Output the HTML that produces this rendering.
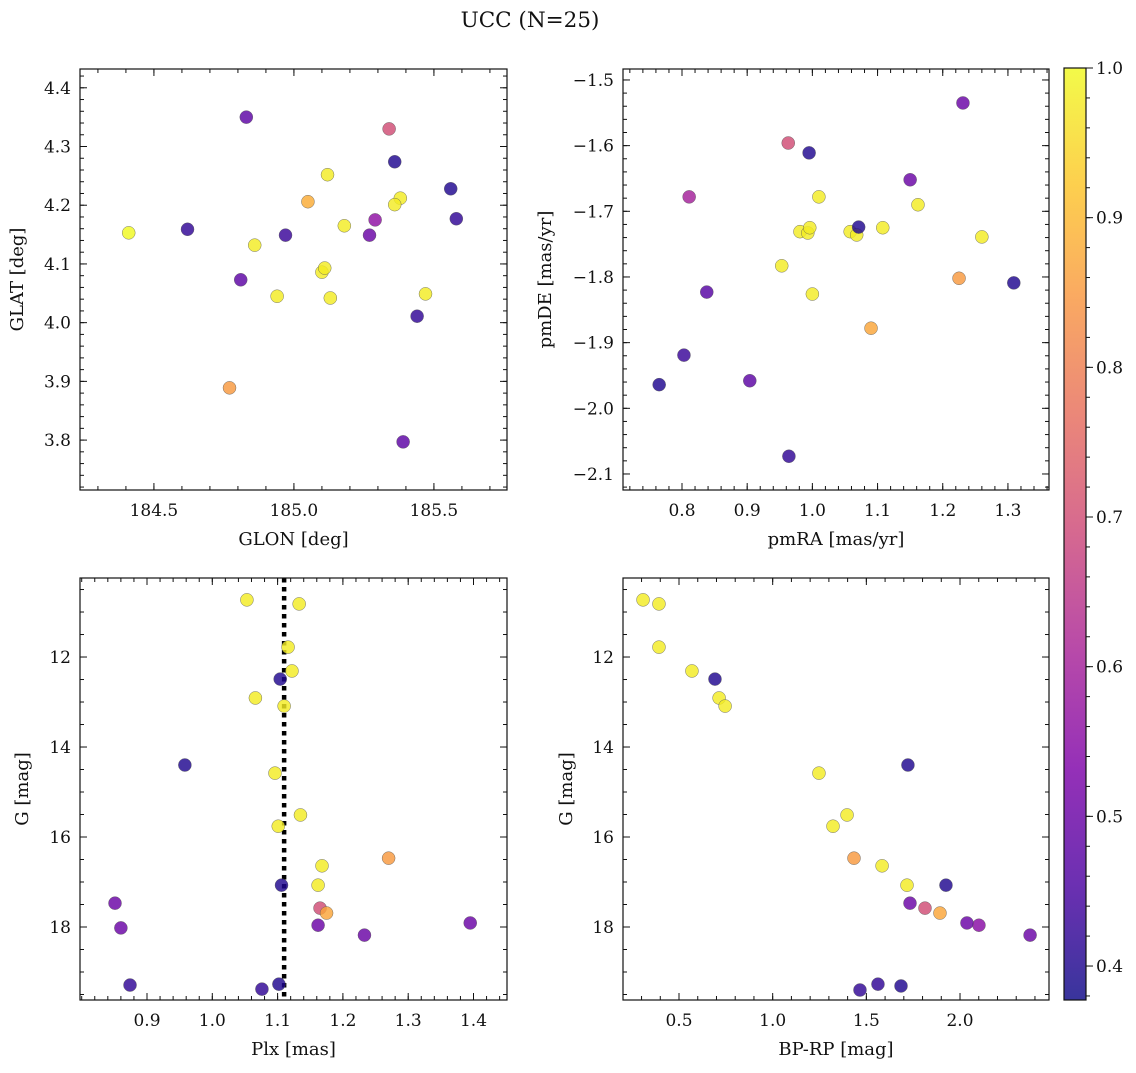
<!DOCTYPE html>
<html><head><meta charset="utf-8"><style>
html,body{margin:0;padding:0;background:#fff;}
svg text{font-family:"DejaVu Serif","Liberation Serif",serif;fill:#111;}
</style></head><body>
<svg id="fig" width="1136" height="1068" xmlns="http://www.w3.org/2000/svg">
<defs>
<linearGradient id="plasma" x1="0" y1="1" x2="0" y2="0">
<stop offset="0" stop-color="#0d0887"/><stop offset="0.125" stop-color="#4c02a1"/>
<stop offset="0.25" stop-color="#7e03a8"/><stop offset="0.375" stop-color="#a82296"/>
<stop offset="0.5" stop-color="#cc4778"/><stop offset="0.625" stop-color="#e66c5c"/>
<stop offset="0.75" stop-color="#f89540"/><stop offset="0.875" stop-color="#fdc527"/>
<stop offset="1" stop-color="#f0f921"/></linearGradient>
</defs>
<text x="530" y="27" font-size="21.5" text-anchor="middle">UCC (N=25)</text>
</svg>
<script>
// Panel 1: GLON vs GLAT
const glonX=[184.41,184.62,184.83,184.86,184.81,184.77,184.94,184.97,185.05,185.12,185.10,185.11,185.13,185.18,185.34,185.29,185.27,185.36,185.38,185.36,185.44,185.47,185.39,185.56,185.58];
const glatY=[4.153,4.159,4.35,4.132,4.073,3.889,4.045,4.149,4.206,4.252,4.086,4.093,4.042,4.165,4.33,4.175,4.149,4.274,4.212,4.201,4.011,4.049,3.797,4.228,4.177];
const p1=[1,0.42,0.48,0.98,0.48,0.85,0.98,0.43,0.88,0.98,0.98,0.98,0.98,0.98,0.7,0.56,0.5,0.4,0.98,0.98,0.42,0.98,0.48,0.4,0.42];
// Panel 2: pmRA vs pmDE
const pmraX=[0.765,0.803,0.811,0.838,0.953,0.904,0.963,0.964,0.981,0.993,0.996,0.995,1.0,1.01,1.058,1.068,1.071,1.09,1.108,1.15,1.162,1.225,1.231,1.26,1.309];
const pmdeY=[-1.964,-1.919,-1.678,-1.823,-1.783,-1.958,-1.596,-2.073,-1.731,-1.733,-1.725,-1.611,-1.826,-1.678,-1.731,-1.736,-1.724,-1.878,-1.725,-1.652,-1.69,-1.802,-1.535,-1.739,-1.809];
const p2=[0.4,0.43,0.6,0.47,0.98,0.48,0.7,0.42,0.98,0.98,0.98,0.4,0.98,0.98,0.98,0.98,0.4,0.87,0.98,0.5,0.98,0.85,0.5,0.98,0.4];
// Panel 3: Plx vs G
const plxX=[1.053,1.133,1.116,1.122,1.104,1.066,1.11,0.958,1.096,1.101,1.135,1.27,1.168,1.162,1.106,0.851,1.165,1.175,1.162,0.86,1.395,1.233,0.874,1.076,1.102];
const g3Y=[10.73,10.82,11.78,12.31,12.49,12.91,13.09,14.40,14.58,15.76,15.51,16.47,16.64,17.07,17.07,17.47,17.58,17.69,17.96,18.02,17.91,18.18,19.29,19.38,19.27];
const p3=[0.98,0.98,0.98,0.98,0.4,0.98,0.98,0.4,0.98,0.98,0.98,0.85,0.98,0.98,0.4,0.5,0.7,0.87,0.5,0.5,0.5,0.5,0.42,0.42,0.4];
const plxLine=1.11;
// Panel 4: BP-RP vs G
const bprpX=[0.308,0.393,0.393,0.569,0.692,0.714,0.746,1.247,1.722,1.322,1.397,1.434,1.584,1.717,1.925,1.733,1.813,1.893,2.101,2.037,2.374,1.466,1.562,1.685];
const g4Y=[10.73,10.82,11.78,12.31,12.49,12.91,13.09,14.58,14.40,15.76,15.51,16.47,16.64,17.07,17.07,17.47,17.58,17.69,17.96,17.91,18.18,19.40,19.27,19.31];
const p4=[0.98,0.98,0.98,0.98,0.4,0.98,0.98,0.98,0.4,0.98,0.98,0.85,0.98,0.98,0.4,0.5,0.7,0.87,0.55,0.5,0.5,0.42,0.42,0.4];
const cbTicks=[0.4,0.5,0.6,0.7,0.8,0.9,1.0];
const VMIN=0.3773,VMAX=1.0;

const NS="http://www.w3.org/2000/svg";
const svg=document.getElementById('fig');
const stops=[[0,[13,8,135]],[0.125,[76,2,161]],[0.25,[126,3,168]],[0.375,[168,34,150]],[0.5,[204,71,120]],[0.625,[230,108,92]],[0.75,[248,149,64]],[0.875,[253,197,39]],[1,[240,249,33]]];
function plasma(t){t=Math.max(0,Math.min(1,t));for(let i=1;i<stops.length;i++){if(t<=stops[i][0]){const a=stops[i-1],b=stops[i],f=(t-a[0])/(b[0]-a[0]);const c=a[1].map((v,k)=>Math.round(v+(b[1][k]-v)*f));return `rgb(${c})`;}}return 'rgb(240,249,33)';}
function el(tag,attrs,parent){const e=document.createElementNS(NS,tag);for(const k in attrs)e.setAttribute(k,attrs[k]);(parent||svg).appendChild(e);return e;}
function fmt(v,d){return v.toFixed(d).replace('-','\u2212');}

function panel(o){
  const g=el('g',{});
  
  
  const X=v=>o.L+(v-o.x0)/(o.x1-o.x0)*(o.R-o.L);
  const Y=v=>o.B-(v-o.y0)/(o.y1-o.y0)*(o.B-o.T);
  function ticks(lo,hi,step){const r=[];const s=Math.ceil(lo/step-1e-9);for(let i=s;i*step<=hi+1e-9;i++)r.push(i*step);return r;}
  const tg=el('g',{stroke:'#111','stroke-width':1},g);
  ticks(Math.min(o.x0,o.x1),Math.max(o.x0,o.x1),o.xmin).forEach(v=>{const x=X(v);el('line',{x1:x,x2:x,y1:o.B,y2:o.B-4},tg);el('line',{x1:x,x2:x,y1:o.T,y2:o.T+4},tg);});
  ticks(Math.min(o.y0,o.y1),Math.max(o.y0,o.y1),o.ymin).forEach(v=>{const y=Y(v);el('line',{x1:o.L,x2:o.L+4,y1:y,y2:y},tg);el('line',{x1:o.R,x2:o.R-4,y1:y,y2:y},tg);});
  ticks(Math.min(o.x0,o.x1),Math.max(o.x0,o.x1),o.xmaj).forEach(v=>{const x=X(v);if(x<o.L+3||x>o.R-3)return;el('line',{x1:x,x2:x,y1:o.B,y2:o.B-7},tg);el('line',{x1:x,x2:x,y1:o.T,y2:o.T+7},tg);
    const t=el('text',{x:x,y:o.B+26,'font-size':17,'text-anchor':'middle'},g);t.textContent=fmt(v,o.xd);
    
    });
  ticks(Math.min(o.y0,o.y1),Math.max(o.y0,o.y1),o.ymaj).forEach(v=>{const y=Y(v);el('line',{x1:o.L,x2:o.L+7,y1:y,y2:y},tg);el('line',{x1:o.R,x2:o.R-7,y1:y,y2:y},tg);
    const t=el('text',{x:o.L-9,y:y+6,'font-size':17,'text-anchor':'end'},g);t.textContent=fmt(v,o.yd);
    
    });
  if(o.vline!==undefined){const l=el('line',{x1:X(o.vline),x2:X(o.vline),y1:o.T,y2:o.B,stroke:'#000','stroke-width':4.5,'stroke-dasharray':'4.5,4.5'},g);
    
    }
  o.xs.forEach((v,i)=>{const c=el('circle',{cx:X(v),cy:Y(o.ys[i]),r:6.5,fill:plasma((o.ps[i]-VMIN)/(VMAX-VMIN)),'fill-opacity':0.82,stroke:'#555','stroke-width':0.4},g);
    
    });
  const fr=el('rect',{x:o.L,y:o.T,width:o.R-o.L,height:o.B-o.T,fill:'none',stroke:'#111','stroke-width':1.2},g);
  
  
  const xl=el('text',{x:(o.L+o.R)/2,y:o.B+55,'font-size':18,'text-anchor':'middle'},g);xl.textContent=o.xlab;
  
  
  const cy=(o.T+o.B)/2;
  const yl=el('text',{x:o.ylx,y:cy,'font-size':18,'text-anchor':'middle',transform:`rotate(-90 ${o.ylx} ${cy})`},g);yl.textContent=o.ylab;
  
  
}
panel({name:'glon-glat-panel',L:80,R:507,T:69,B:490,x0:184.236,x1:185.761,y0:3.715,y1:4.432,xmaj:0.5,xmin:0.1,ymaj:0.1,ymin:0.02,xd:1,yd:1,xs:glonX,ys:glatY,ps:p1,xlab:'GLON [deg]',ylab:'GLAT [deg]',ylx:23});
panel({name:'proper-motion-panel',L:623,R:1049,T:69,B:490,x0:0.7095,x1:1.363,y0:-2.1244,y1:-1.4833,xmaj:0.1,xmin:0.02,ymaj:0.1,ymin:0.02,xd:1,yd:1,xs:pmraX,ys:pmdeY,ps:p2,xlab:'pmRA [mas/yr]',ylab:'pmDE [mas/yr]',ylx:551});
panel({name:'plx-g-panel',L:80,R:507,T:578,B:1000,x0:0.7974,x1:1.4513,y0:19.622,y1:10.244,xmaj:0.1,xmin:0.02,ymaj:2,ymin:0.5,xd:1,yd:0,xs:plxX,ys:g3Y,ps:p3,xlab:'Plx [mas]',ylab:'G [mag]',ylx:28,vline:plxLine});
panel({name:'cmd-panel',L:623,R:1049,T:578,B:1000,x0:0.201,x1:2.475,y0:19.622,y1:10.244,xmaj:0.5,xmin:0.1,ymaj:2,ymin:0.5,xd:1,yd:0,xs:bprpX,ys:g4Y,ps:p4,xlab:'BP-RP [mag]',ylab:'G [mag]',ylx:572});
// colorbar
const cb=el('g',{});


el('rect',{x:1064,y:68,width:22,height:932,fill:'url(#plasma)','fill-opacity':0.82,stroke:'#111','stroke-width':1.2},cb);
const CY=v=>1000-(v-VMIN)/(VMAX-VMIN)*932;
for(let i=0;i*0.02+0.38<=1.0001;i++){const y=CY(0.38+i*0.02);el('line',{x1:1086,x2:1090,y1:y,y2:y,stroke:'#111'},cb);}
cbTicks.forEach(v=>{const y=CY(v);el('line',{x1:1086,x2:1093,y1:y,y2:y,stroke:'#111'},cb);
  const t=el('text',{x:1096,y:y+6,'font-size':17},cb);t.textContent=v.toFixed(1);
  
  });
</script>
</body></html>
